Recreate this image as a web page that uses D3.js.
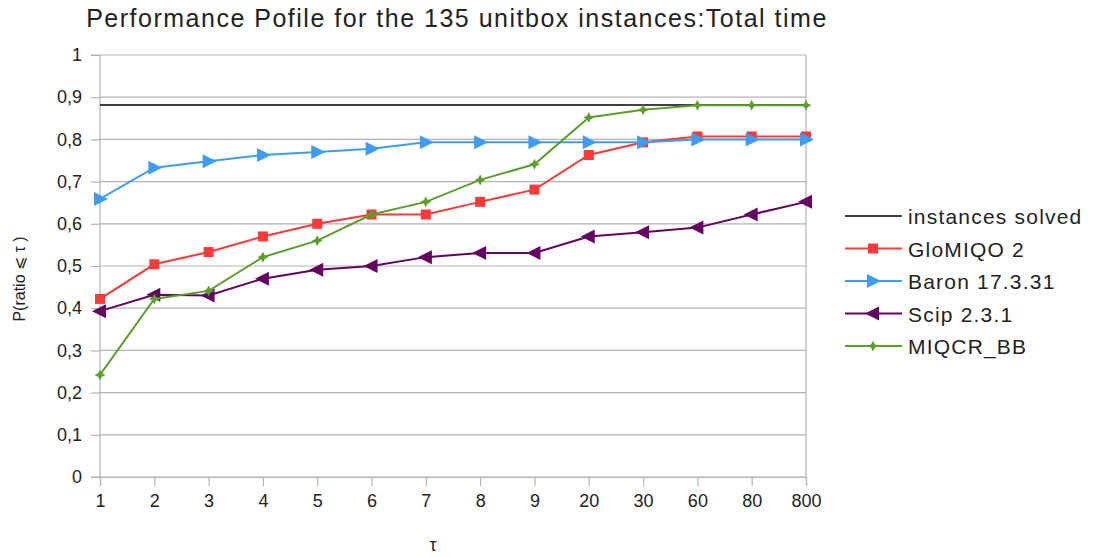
<!DOCTYPE html>
<html><head><meta charset="utf-8">
<script src="https://cdn.jsdelivr.net/npm/d3@7"></script>
<style>body{margin:0;background:#fff}svg{display:block}text{font-family:"Liberation Sans",Arial,sans-serif;fill:#222}</style>
</head><body>
<svg id="c" width="1093" height="557"></svg>
<script>
const categories = ["1","2","3","4","5","6","7","8","9","20","30","60","80","800"];
const yTicks = [0,0.1,0.2,0.3,0.4,0.5,0.6,0.7,0.8,0.9,1];
const solved = 119/135;
const glomiqo = [0.422,0.504,0.533,0.570,0.600,0.622,0.622,0.652,0.681,0.763,0.793,0.807,0.807,0.807];
const baron   = [0.659,0.733,0.748,0.763,0.770,0.778,0.793,0.793,0.793,0.793,0.793,0.800,0.800,0.800];
const scip    = [0.393,0.432,0.430,0.470,0.491,0.500,0.521,0.531,0.531,0.570,0.580,0.591,0.622,0.652];
const miqcr   = [0.242,0.422,0.441,0.521,0.560,0.622,0.652,0.704,0.741,0.852,0.870,0.881,0.881,0.881];
const seriesNames = ["GloMIQO 2","Baron 17.3.31","Scip 2.3.1","MIQCR_BB"];

const series = [
  {name:seriesNames[0], values:glomiqo, color:"#ff3838", marker:"square"},
  {name:seriesNames[1], values:baron, color:"#3d9df5", marker:"right"},
  {name:seriesNames[2], values:scip, color:"#650363", marker:"left"},
  {name:seriesNames[3], values:miqcr, color:"#5b9e2c", marker:"plus"}
];

const svg = d3.select("#c");
const L=100,R=806,T=55,B=477;
const x = d3.scalePoint().domain(categories).range([L,R]).padding(0);
const y = d3.scaleLinear().domain([0,1]).range([B,T]);

// grid
svg.append("g").selectAll("line").data(yTicks).join("line")
  .attr("x1",L).attr("x2",R).attr("y1",d=>y(d)).attr("y2",d=>y(d))
  .attr("stroke","#b3b3b3").attr("stroke-width",1.2);
svg.append("line").attr("x1",R).attr("x2",R).attr("y1",T).attr("y2",B).attr("stroke","#b3b3b3").attr("stroke-width",1.2);

// axes
const yAxis = svg.append("g").attr("transform",`translate(${L},0)`)
  .call(d3.axisLeft(y).tickValues(yTicks).tickSize(9).tickPadding(9).tickFormat(d=>String(d).replace(".",",")));
const xAxis = svg.append("g").attr("transform",`translate(0,${B})`)
  .call(d3.axisBottom(x).tickSize(9).tickPadding(8));
[yAxis,xAxis].forEach(a=>{
  a.select(".domain").attr("stroke","#b3b3b3").attr("stroke-width",1.2);
  a.selectAll(".tick line").attr("stroke","#b3b3b3").attr("stroke-width",1.2);
  a.selectAll(".tick text").attr("font-size",18).attr("fill","#222").attr("font-family","Liberation Sans, Arial, sans-serif");
});
yAxis.select(".domain").attr("d",`M-9,${B}H0V${T}H-9`);

// solved line
svg.append("line").attr("x1",L).attr("x2",R).attr("y1",y(solved)).attr("y2",y(solved))
  .attr("stroke","#000").attr("stroke-width",1.3);

function marker(g,type,color,cx,cy){
  if(type==="square") g.append("rect").attr("x",cx-5).attr("y",cy-5).attr("width",10).attr("height",10).attr("fill",color);
  else if(type==="right") g.append("path").attr("d",`M${cx-6},${cy-7}L${cx+8},${cy}L${cx-6},${cy+7}Z`).attr("fill",color);
  else if(type==="left") g.append("path").attr("d",`M${cx+6},${cy-7}L${cx-8},${cy}L${cx+6},${cy+7}Z`).attr("fill",color);
  else g.append("path").attr("d",`M${cx},${cy-5.5}L${cx+1.8},${cy-1.8}L${cx+5.5},${cy}L${cx+1.8},${cy+1.8}L${cx},${cy+5.5}L${cx-1.8},${cy+1.8}L${cx-5.5},${cy}L${cx-1.8},${cy-1.8}Z`).attr("fill",color);
}

const line = d3.line().x((d,i)=>x(categories[i])).y(d=>y(d));
series.forEach(s=>{
  const g = svg.append("g");
  g.append("path").attr("d",line(s.values)).attr("fill","none").attr("stroke",s.color).attr("stroke-width",2);
  s.values.forEach((v,i)=>marker(g,s.marker,s.color,x(categories[i]),y(v)));
});

// title & labels
svg.append("text").attr("x",457).attr("y",27).attr("text-anchor","middle").attr("font-size",25)
  .attr("fill","#333").attr("letter-spacing",1.5)
  .text("Performance Pofile for the 135 unitbox instances:Total time");
svg.append("text").attr("transform","translate(25,279) rotate(-90)").attr("text-anchor","middle").attr("font-size",16)
  .text("P(ratio ⩽ τ )");
svg.append("text").attr("x",433).attr("y",551).attr("text-anchor","middle").attr("font-size",18).text("τ");

// legend
const leg = svg.append("g");
const items = [{name:"instances solved",color:"#000",marker:null}].concat(series);
items.forEach((it,i)=>{
  const yy = 216 + i*32.5;
  leg.append("line").attr("x1",845).attr("x2",902).attr("y1",yy).attr("y2",yy).attr("stroke",it.color).attr("stroke-width",it.marker?2:1.5);
  if(it.marker) marker(leg,it.marker,it.color,873,yy);
  leg.append("text").attr("x",908).attr("y",yy+8).attr("font-size",21).attr("letter-spacing",1.2).text(it.name);
});
</script>
</body></html>
